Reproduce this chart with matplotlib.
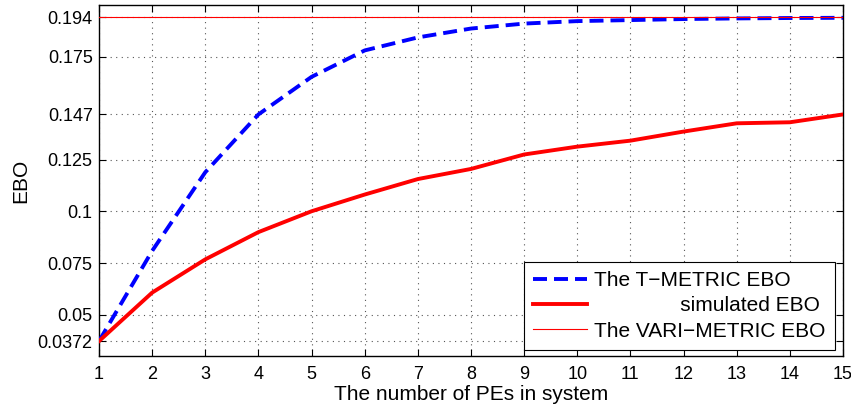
import matplotlib
matplotlib.use("Agg")
import matplotlib.pyplot as plt

x = list(range(1, 16))
t_metric = [0.0372, 0.0809, 0.1190, 0.1470, 0.1652, 0.1780, 0.1843, 0.1886, 0.1910,
            0.1922, 0.1927, 0.1932, 0.1935, 0.1937, 0.1938]
simulated = [0.0372, 0.0607, 0.0768, 0.0900, 0.1001, 0.1082, 0.1157, 0.1206, 0.1276,
             0.1314, 0.1343, 0.1387, 0.1427, 0.1432, 0.1470]
vari_metric = [0.194] * 15

yticks = [0.0372, 0.05, 0.075, 0.1, 0.125, 0.147, 0.175, 0.194]
ytick_labels = ["0.0372", "0.05", "0.075", "0.1", "0.125", "0.147", "0.175", "0.194"]
xticks = list(range(1, 16))

plt.rcParams['font.family'] = ['Liberation Sans', 'DejaVu Sans']

fig = plt.figure(figsize=(8.51, 4.09), dpi=100)
ax = fig.add_axes([99 / 851, 1 - 356 / 409, (843 - 99) / 851, (356 - 5) / 409])

ax.plot(x, t_metric, color='#0000ff', lw=2.8, linestyle=(0, (3.6, 1.8)),
        label='The T\u2212METRIC EBO', zorder=3)
ax.plot(x, simulated, color='#ff0000', lw=2.8,
        label='               simulated EBO', zorder=3)
ax.plot(x, vari_metric, color='#ff0000', lw=0.8, label='The VARI\u2212METRIC EBO', zorder=3)

ax.set_xlim(1, 15)
ax.set_ylim(0.03, 0.2)
ax.set_xticks(xticks)
ax.set_yticks(yticks)
ax.set_yticklabels(ytick_labels)
ax.tick_params(direction='in', top=True, right=True, labelsize=13, length=5, width=0.8)
ax.tick_params(axis='x', pad=7)
ax.tick_params(axis='y', pad=4.5)
ax.grid(True, color='#555555', linestyle=(0, (1, 4)), lw=0.8)
for s in ax.spines.values():
    s.set_linewidth(1.0)

ax.set_xlabel('The number of PEs in system', fontsize=15, labelpad=2)
ax.set_ylabel('EBO', fontsize=15, labelpad=5.5)

leg = ax.legend(loc='lower right',
                bbox_to_anchor=((835 - 99) / (843 - 99), (356 - 350) / (356 - 5)),
                fontsize=15, fancybox=False, edgecolor='black', framealpha=1,
                handlelength=2.55, borderpad=0.45, labelspacing=0.3,
                handletextpad=0.37, borderaxespad=0.0)
leg.get_frame().set_linewidth(0.8)

fig.savefig('out.png', dpi=100)
